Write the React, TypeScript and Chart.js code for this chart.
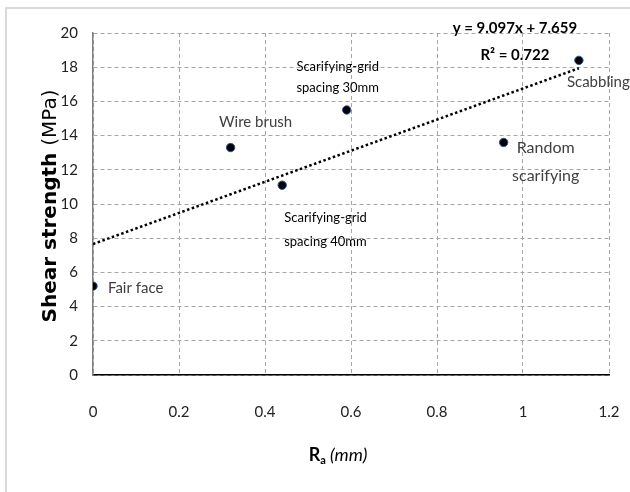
import React, { useEffect, useRef } from "react";
import { Chart, registerables } from "chart.js";

Chart.register(...registerables);

// ---- data ----
const categories = [
  "Fair face",
  "Wire brush",
  "Scarifying-grid\nspacing 40mm",
  "Scarifying-grid\nspacing 30mm",
  "Random\nscarifying",
  "Scabbling",
];
const raValues = [0, 0.32, 0.44, 0.59, 0.955, 1.13];
const shearValues = [5.2, 13.3, 11.1, 15.5, 13.6, 18.4];
const trendX = [0, 1.13];
const trendY = [7.659, 17.939];
const equationLines = ["y = 9.097x + 7.659", "R² = 0.722"];
const xMin = 0, xMax = 1.2, xStep = 0.2;
const yMin = 0, yMax = 20, yStep = 2;

// ---- label layout (pixel offsets from the point) ----
const FONT = 'Lato, "Open Sans", sans-serif';
const labelLayout = [
  { dx: 15, dy: [2], align: "left", size: 15, color: "#404040" },
  { dx: 25, dy: [-25], align: "center", size: 15, color: "#404040" },
  { dx: 2, dy: [33, 57], align: "left", size: 13, color: "#000" },
  { dx: -9, dy: [-43, -22], align: "center", size: 13, color: "#000" },
  { dx: 42, dy: [5, 33], align: "center", size: 16, color: "#404040" },
  { dx: -12, dy: [22], align: "left", size: 15, color: "#404040" },
];

const decorPlugin = {
  id: "decor",
  beforeDraw(chart: any) {
    const ctx = chart.ctx;
    ctx.save();
    ctx.strokeStyle = "#d9d9d9";
    ctx.lineWidth = 2;
    ctx.beginPath();
    ctx.moveTo(6, 492);
    ctx.lineTo(6, 8);
    ctx.lineTo(630, 8);
    ctx.stroke();
    ctx.restore();
  },
  afterDraw(chart: any) {
    const ctx = chart.ctx;
    const xs = chart.scales.x;
    const ys = chart.scales.y;
    ctx.save();
    ctx.textBaseline = "middle";
    // point labels
    categories.forEach((c, i) => {
      const L = labelLayout[i];
      const px = xs.getPixelForValue(raValues[i]);
      const py = ys.getPixelForValue(shearValues[i]);
      const lines = c.split("\n");
      ctx.font = `${L.size}px ${FONT}`;
      ctx.fillStyle = L.color;
      ctx.textAlign = L.align;
      lines.forEach((t, k) => ctx.fillText(t, px + L.dx, py + L.dy[k]));
    });
    // equation
    const ex = xs.getPixelForValue(trendX[1]);
    const ey = ys.getPixelForValue(trendY[1]);
    ctx.font = `bold 15px ${FONT}`;
    ctx.fillStyle = "#000";
    ctx.textAlign = "center";
    ctx.fillText(equationLines[0], ex - 64, ey - 40);
    ctx.fillText(equationLines[1], ex - 64, ey - 13);

    // y title (mixed style, rotated)
    const cy = (ys.top + ys.bottom) / 2;
    ctx.save();
    ctx.translate(51, cy + 2);
    ctx.rotate(-Math.PI / 2);
    const boldPart = "Shear strength ";
    const regPart = "(MPa)";
    ctx.font = 'bold 20px "DejaVu Sans", sans-serif';
    const w1 = ctx.measureText(boldPart).width;
    ctx.font = '20px "DejaVu Sans", sans-serif';
    const w2 = ctx.measureText(regPart).width;
    const start = -(w1 + w2) / 2;
    ctx.textAlign = "left";
    ctx.fillStyle = "#000";
    ctx.font = 'bold 20px "DejaVu Sans", sans-serif';
    ctx.fillText(boldPart, start, 0);
    ctx.font = '20px "DejaVu Sans", sans-serif';
    ctx.fillText(regPart, start + w1, 0);
    ctx.restore();

    // x title: R_a (mm)
    const cx = (xs.left + xs.right) / 2 - 13;
    const ty = 455;
    ctx.textAlign = "left";
    ctx.fillStyle = "#000";
    ctx.font = `bold 18px ${FONT}`;
    const wR = ctx.measureText("R").width;
    ctx.font = `bold 11px ${FONT}`;
    const wa = ctx.measureText("a").width;
    ctx.font = `italic 18px ${FONT}`;
    const wm = ctx.measureText(" (mm)").width;
    let sx = cx - (wR + wa + wm) / 2;
    ctx.font = `bold 18px ${FONT}`;
    ctx.fillText("R", sx, ty);
    sx += wR;
    ctx.font = `bold 11px ${FONT}`;
    ctx.fillText("a", sx, ty + 5);
    sx += wa;
    ctx.font = `italic 18px ${FONT}`;
    ctx.fillText(" (mm)", sx, ty);
    ctx.restore();
  },
};

export default function App() {
  const ref = useRef<HTMLCanvasElement | null>(null);
  useEffect(() => {
    if (!ref.current) return;
    const chart = new Chart(ref.current, {
      type: "scatter",
      data: {
        datasets: [
          {
            label: "Shear strength",
            data: raValues.map((x, i) => ({ x, y: shearValues[i] })),
            backgroundColor: "#000",
            borderColor: "#2f5597",
            borderWidth: 1,
            pointRadius: 4.2,
            showLine: false,
            order: 1,
          },
          {
            label: "Trend",
            data: trendX.map((x, i) => ({ x, y: trendY[i] })),
            showLine: true,
            borderColor: "#000",
            borderWidth: 2.5,
            borderDash: [2.5, 2.5],
            pointRadius: 0,
            fill: false,
            order: 2,
          },
        ],
      },
      options: {
        animation: false,
        responsive: false,
        maintainAspectRatio: false,
        layout: { padding: { top: 33, right: 21, left: 0, bottom: 0 } },
        plugins: { legend: { display: false }, tooltip: { enabled: false } },
        scales: {
          x: {
            type: "linear",
            min: xMin,
            max: xMax,
            afterFit: (s: any) => { s.height = 117; },
            ticks: {
              stepSize: xStep,
              padding: 0,
              color: "#222",
              font: { family: FONT, size: 15 },
              callback: (v: any) => String(Math.round(Number(v) * 10) / 10),
            },
            grid: { color: "#a6a6a6", lineWidth: 1, drawTicks: true, tickLength: 28, tickColor: "rgba(0,0,0,0)" },
            border: { display: true, color: "#000", width: 1.5, dash: [4, 3] },
          },
          y: {
            type: "linear",
            min: yMin,
            max: yMax,
            afterFit: (s: any) => { s.width = 93; },
            ticks: {
              stepSize: yStep,
              padding: 15,
              color: "#222",
              font: { family: FONT, size: 15 },
            },
            grid: { color: "#a6a6a6", lineWidth: 1, drawTicks: false },
            border: { display: true, color: "#7f7f7f", width: 1.5, dash: [4, 3] },
          },
        },
      },
      plugins: [decorPlugin],
    });
    return () => chart.destroy();
  }, []);
  return (
    <div style={{ position: "absolute", left: 0, top: 0, width: 630, height: 492, background: "#fff" }}>
      <canvas ref={ref} width={630} height={492} style={{ width: 630, height: 492 }} />
    </div>
  );
}
